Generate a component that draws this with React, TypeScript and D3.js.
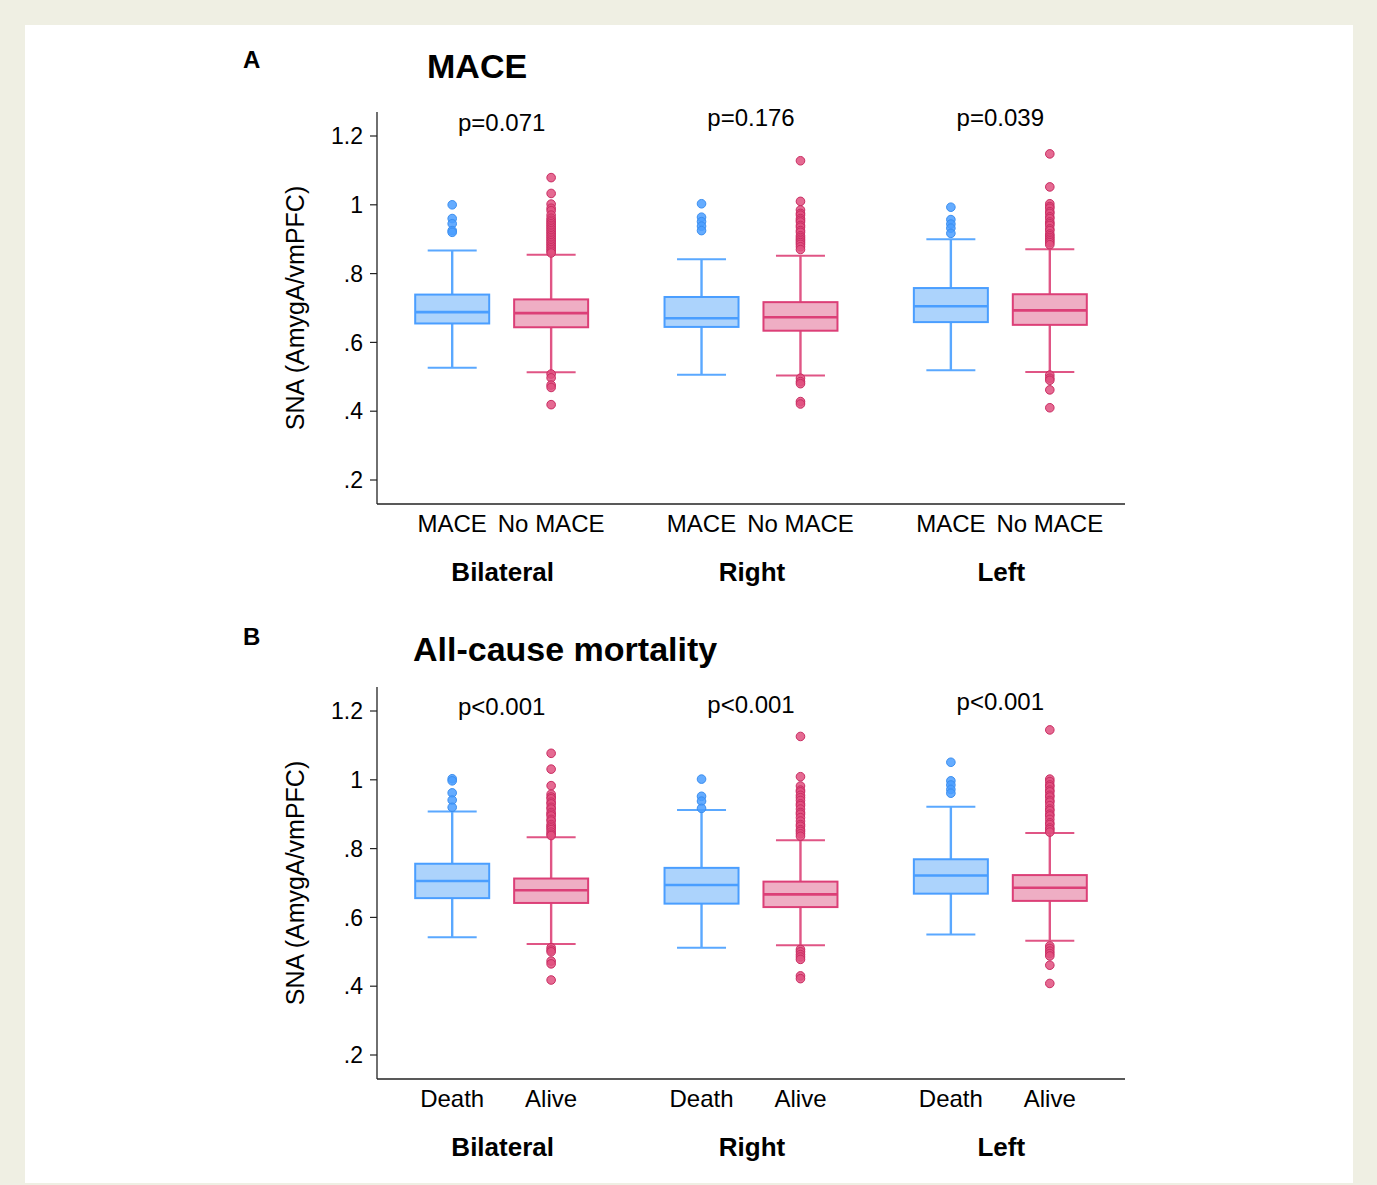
import React, { useEffect, useRef } from 'react';
import * as d3 from 'd3';

const groups = ['Bilateral', 'Right', 'Left'];
const maceCats = ['MACE', 'No MACE'];
const mortCats = ['Death', 'Alive'];
const maceP = ['p=0.071', 'p=0.176', 'p=0.039'];
const mortP = ['p<0.001', 'p<0.001', 'p<0.001'];
const yTicks = [0.2, 0.4, 0.6, 0.8, 1, 1.2];
const yTickLabels = ['.2', '.4', '.6', '.8', '1', '1.2'];

// [lower whisker, q1, median, q3, upper whisker], order: group x category
const maceBoxes = [
    [0.526, 0.655, 0.688, 0.739, 0.867],
    [0.513, 0.644, 0.685, 0.725, 0.855],
    [0.506, 0.645, 0.670, 0.732, 0.842],
    [0.504, 0.634, 0.673, 0.717, 0.852],
    [0.519, 0.659, 0.705, 0.758, 0.900],
    [0.514, 0.651, 0.693, 0.740, 0.871],
];
const mortBoxes = [
    [0.542, 0.656, 0.706, 0.756, 0.908],
    [0.523, 0.642, 0.679, 0.713, 0.833],
    [0.512, 0.640, 0.694, 0.744, 0.912],
    [0.519, 0.630, 0.667, 0.704, 0.824],
    [0.550, 0.669, 0.722, 0.769, 0.922],
    [0.532, 0.648, 0.686, 0.723, 0.845],
];

const maceOutliers = [
    [1.0, 0.96, 0.945, 0.925, 0.92],
    [1.079, 1.033, 1.002, 0.99, 0.983, 0.97, 0.961, 0.955, 0.95, 0.945, 0.94, 0.935, 0.93, 0.925, 0.92, 0.915,
        0.91, 0.905, 0.9, 0.895, 0.89, 0.885, 0.88, 0.875, 0.87, 0.865, 0.86, 0.508, 0.497, 0.476, 0.469, 0.419],
    [1.003, 0.964, 0.951, 0.938, 0.925],
    [1.128, 1.01, 0.985, 0.975, 0.97, 0.96, 0.955, 0.95, 0.94, 0.935, 0.925, 0.92, 0.91, 0.905, 0.9, 0.895,
        0.89, 0.885, 0.878, 0.87, 0.496, 0.486, 0.48, 0.428, 0.421],
    [0.993, 0.957, 0.944, 0.932, 0.917],
    [1.148, 1.052, 1.003, 0.995, 0.99, 0.98, 0.975, 0.965, 0.96, 0.95, 0.945, 0.94, 0.93, 0.925, 0.915, 0.91,
        0.905, 0.9, 0.895, 0.89, 0.884, 0.505, 0.496, 0.49, 0.462, 0.41],
];
const mortOutliers = [
    [1.003, 0.997, 0.962, 0.941, 0.92],
    [1.077, 1.031, 0.983, 0.958, 0.95, 0.945, 0.935, 0.93, 0.92, 0.915, 0.905, 0.9, 0.895, 0.885, 0.88, 0.87,
        0.865, 0.86, 0.855, 0.848, 0.842, 0.838, 0.512, 0.505, 0.5, 0.473, 0.465, 0.418],
    [1.002, 0.952, 0.938, 0.917],
    [1.126, 1.009, 0.982, 0.97, 0.965, 0.955, 0.948, 0.94, 0.93, 0.925, 0.915, 0.905, 0.9, 0.89, 0.88, 0.87,
        0.865, 0.855, 0.85, 0.843, 0.836, 0.507, 0.5, 0.492, 0.485, 0.478, 0.43, 0.422],
    [1.051, 0.997, 0.985, 0.972, 0.961],
    [1.145, 1.002, 0.995, 0.985, 0.98, 0.97, 0.965, 0.955, 0.95, 0.94, 0.935, 0.925, 0.915, 0.91, 0.9, 0.895,
        0.885, 0.875, 0.87, 0.86, 0.855, 0.848, 0.517, 0.51, 0.502, 0.495, 0.488, 0.461, 0.408],
];

const FONT = '"Liberation Sans", Arial, sans-serif';
const colors = [
    { stroke: '#4a9eff', fill: '#acd3fc', whisker: '#5aa8ff', dot: '#4a9eff', dotStroke: '#3a8ef0' },
    { stroke: '#dc3f77', fill: '#efaec4', whisker: '#e05585', dot: '#e0507f', dotStroke: '#c92c62' },
];

function drawPanel(svg, cfg) {
    const dy = cfg.dy;
    const left = 377, right = 1125;
    const y = d3.scaleLinear().domain([0.2, 1.2]).range([480 + dy, 136 + dy]);
    const xGroup = d3.scaleBand().domain(groups).range([left, right]).paddingInner(0).paddingOuter(0);
    const xCat = d3.scalePoint().domain(cfg.cats).range([0, xGroup.bandwidth()]).padding(0.76);
    const boxW = 74, capW = 49;

    const g = svg.append('g');

    // panel letter + title
    g.append('text').attr('x', 243).attr('y', 68 + cfg.letterDy).attr('font-size', 24)
        .attr('font-weight', 'bold').text(cfg.letter);
    g.append('text').attr('x', cfg.titleX).attr('y', cfg.titleY).attr('font-size', 34)
        .attr('font-weight', 'bold').text(cfg.title);

    // axes
    g.append('line').attr('x1', left).attr('x2', left).attr('y1', 112 + dy).attr('y2', 504 + dy)
        .attr('stroke', '#222').attr('stroke-width', 1.3);
    g.append('line').attr('x1', left).attr('x2', right).attr('y1', 504 + dy).attr('y2', 504 + dy)
        .attr('stroke', '#222').attr('stroke-width', 1.3);

    yTicks.forEach((t, i) => {
        g.append('line').attr('x1', left - 7).attr('x2', left).attr('y1', y(t)).attr('y2', y(t))
            .attr('stroke', '#222').attr('stroke-width', 1.2);
        g.append('text').attr('x', 363).attr('y', y(t)).attr('dy', '0.36em').attr('text-anchor', 'end')
            .attr('font-size', 23).text(yTickLabels[i]);
    });

    g.append('text').attr('transform', `translate(304,${308 + dy}) rotate(-90)`).attr('text-anchor', 'middle')
        .attr('font-size', 25).text('SNA (AmygA/vmPFC)');

    groups.forEach((grp, gi) => {
        const gc = xGroup(grp) + xGroup.bandwidth() / 2;
        g.append('text').attr('x', gc).attr('y', cfg.pY[gi]).attr('text-anchor', 'middle')
            .attr('font-size', 24).text(cfg.pLabels[gi]);
        g.append('text').attr('x', gc + 1).attr('y', 581 + dy).attr('text-anchor', 'middle')
            .attr('font-size', 26).attr('font-weight', 'bold').text(grp);

        cfg.cats.forEach((cat, ci) => {
            const idx = gi * 2 + ci;
            const cx = xGroup(grp) + xCat(cat);
            const [lo, q1, med, q3, hi] = cfg.boxes[idx];
            const c = colors[ci];

            g.append('text').attr('x', cx).attr('y', 532 + dy).attr('text-anchor', 'middle')
                .attr('font-size', 24).text(cat);

            // whiskers
            g.append('line').attr('x1', cx).attr('x2', cx).attr('y1', y(hi)).attr('y2', y(q3))
                .attr('stroke', c.whisker).attr('stroke-width', 2.4);
            g.append('line').attr('x1', cx).attr('x2', cx).attr('y1', y(q1)).attr('y2', y(lo))
                .attr('stroke', c.whisker).attr('stroke-width', 2.4);
            [hi, lo].forEach(v => {
                g.append('line').attr('x1', cx - capW / 2).attr('x2', cx + capW / 2).attr('y1', y(v)).attr('y2', y(v))
                    .attr('stroke', c.whisker).attr('stroke-width', 2);
            });

            // outliers
            g.selectAll(null)
                .data(cfg.outliers[idx])
                .enter().append('circle')
                .attr('cx', cx)
                .attr('cy', d => y(d))
                .attr('r', 4.3)
                .attr('fill', c.dot)
                .attr('fill-opacity', 0.85)
                .attr('stroke', c.dotStroke)
                .attr('stroke-width', 1);

            // box
            g.append('rect').attr('x', cx - boxW / 2).attr('y', y(q3)).attr('width', boxW).attr('height', y(q1) - y(q3))
                .attr('fill', c.fill).attr('stroke', c.stroke).attr('stroke-width', 2);
            g.append('line').attr('x1', cx - boxW / 2).attr('x2', cx + boxW / 2).attr('y1', y(med)).attr('y2', y(med))
                .attr('stroke', c.stroke).attr('stroke-width', 2.6);
        });
    });
}

const App = () => {
    const ref = useRef(null);

    useEffect(() => {
        const svg = d3.select(ref.current);
        svg.selectAll('*').remove();
        svg.attr('font-family', FONT).attr('fill', '#000');

        svg.append('rect').attr('width', 1377).attr('height', 1185).attr('fill', '#efefe3');
        svg.append('rect').attr('x', 25).attr('y', 25).attr('width', 1328).attr('height', 1158).attr('fill', '#fff');

        drawPanel(svg, {
            dy: 0, letter: 'A', letterDy: 0, title: 'MACE', titleX: 427, titleY: 78,
            cats: maceCats, boxes: maceBoxes, outliers: maceOutliers, pLabels: maceP, pY: [131, 126, 126],
        });
        drawPanel(svg, {
            dy: 575, letter: 'B', letterDy: 577, title: 'All-cause mortality', titleX: 413, titleY: 661,
            cats: mortCats, boxes: mortBoxes, outliers: mortOutliers, pLabels: mortP, pY: [715, 713, 710],
        });
    }, []);

    return (
        <svg ref={ref} width={1377} height={1185} style={{ position: 'absolute', left: 0, top: 0 }} />
    );
};

export default App;
